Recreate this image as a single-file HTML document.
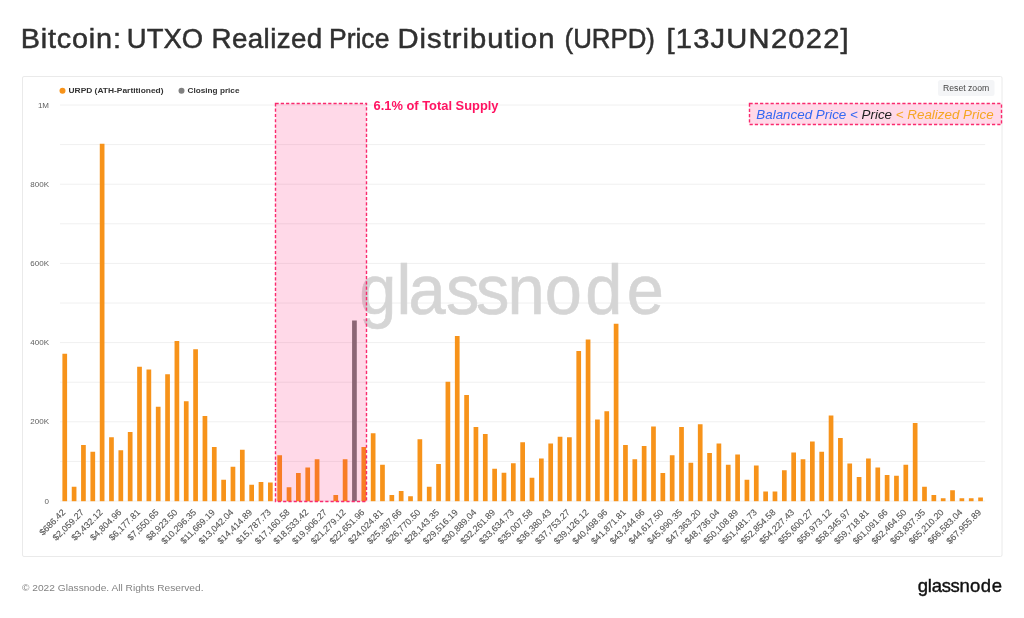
<!DOCTYPE html>
<html lang="en">
<head>
<meta charset="utf-8">
<title>Bitcoin: UTXO Realized Price Distribution (URPD) [13JUN2022]</title>
<style>
html,body{margin:0;padding:0;background:#fff;}
body{width:1024px;height:618px;position:relative;overflow:hidden;font-family:"Liberation Sans",sans-serif;}
svg{position:absolute;left:0;top:0;filter:blur(0.35px);}
text{font-family:"Liberation Sans",sans-serif;}
.title{font-size:27px;fill:#303030;stroke:#303030;stroke-width:0.5;}
.yl{font-size:8px;fill:#606060;}
.xl{font-size:9px;fill:#555;stroke:#555;stroke-width:0.1;}
.leg{font-size:7.8px;font-weight:bold;fill:#333;}
.ann{font-size:13px;font-weight:bold;fill:#ff1361;}
.rz{font-size:8.5px;fill:#444;}
.bp{font-size:13.5px;}
.copy{font-size:9.3px;fill:#828282;}
.wm{font-size:71px;fill:#d5d5d5;stroke:#d5d5d5;stroke-width:0.6;}
.logo{font-size:18.5px;fill:#111;stroke:#111;stroke-width:0.4;}
</style>
</head>
<body>
<svg width="1024" height="618" viewBox="0 0 1024 618">
<rect x="0" y="0" width="1024" height="618" fill="#fff"/>
<g id="title">
<text class="title" transform="translate(20.66,47.8) scale(1.0679,1)" letter-spacing="0.763">Bitcoin:</text>
<text class="title" transform="translate(126.87,47.8) scale(1.0153,1)" letter-spacing="0.0">UTXO</text>
<text class="title" transform="translate(211.54,47.8) scale(1.0277,1)" letter-spacing="0.389">Realized</text>
<text class="title" transform="translate(328.93,47.8) scale(0.9831,1)" letter-spacing="0.0">Price</text>
<text class="title" transform="translate(397.53,47.8) scale(1.0826,1)" letter-spacing="0.915">Distribution</text>
<text class="title" transform="translate(564.54,47.8) scale(0.9576,1)" letter-spacing="0.0">(URPD)</text>
<text class="title" transform="translate(666.44,47.8) scale(1.0792,1)" letter-spacing="1.13">[13JUN2022]</text>
</g>
<rect x="22.5" y="76.5" width="979.5" height="480" fill="#fff" stroke="#eaeaea" stroke-width="1" rx="1.5"/>
<g id="grid">
<line x1="60.0" x2="985.2" y1="501.00" y2="501.00" stroke="#f0f0f0" stroke-width="1"/>
<line x1="60.0" x2="985.2" y1="461.40" y2="461.40" stroke="#f0f0f0" stroke-width="1"/>
<line x1="60.0" x2="985.2" y1="421.80" y2="421.80" stroke="#f0f0f0" stroke-width="1"/>
<line x1="60.0" x2="985.2" y1="382.20" y2="382.20" stroke="#f0f0f0" stroke-width="1"/>
<line x1="60.0" x2="985.2" y1="342.60" y2="342.60" stroke="#f0f0f0" stroke-width="1"/>
<line x1="60.0" x2="985.2" y1="303.00" y2="303.00" stroke="#f0f0f0" stroke-width="1"/>
<line x1="60.0" x2="985.2" y1="263.40" y2="263.40" stroke="#f0f0f0" stroke-width="1"/>
<line x1="60.0" x2="985.2" y1="223.80" y2="223.80" stroke="#f0f0f0" stroke-width="1"/>
<line x1="60.0" x2="985.2" y1="184.20" y2="184.20" stroke="#f0f0f0" stroke-width="1"/>
<line x1="60.0" x2="985.2" y1="144.60" y2="144.60" stroke="#f0f0f0" stroke-width="1"/>
<line x1="60.0" x2="985.2" y1="105.00" y2="105.00" stroke="#f0f0f0" stroke-width="1"/>
</g>
<text class="wm" transform="scale(0.94,1)" x="382.2 421.8 434.7 474.5 506.5 540.0 579.5 622.7 666.8" y="314.3">glassnode</text>
<g id="bars">
<rect x="62.40" y="353.75" width="4.7" height="147.45" fill="#f7931a"/>
<rect x="71.75" y="486.75" width="4.7" height="14.45" fill="#f7931a"/>
<rect x="81.09" y="445.00" width="4.7" height="56.20" fill="#f7931a"/>
<rect x="90.44" y="451.75" width="4.7" height="49.45" fill="#f7931a"/>
<rect x="99.78" y="143.75" width="4.7" height="357.45" fill="#f7931a"/>
<rect x="109.12" y="437.25" width="4.7" height="63.95" fill="#f7931a"/>
<rect x="118.47" y="450.25" width="4.7" height="50.95" fill="#f7931a"/>
<rect x="127.82" y="432.00" width="4.7" height="69.20" fill="#f7931a"/>
<rect x="137.16" y="366.75" width="4.7" height="134.45" fill="#f7931a"/>
<rect x="146.51" y="369.50" width="4.7" height="131.70" fill="#f7931a"/>
<rect x="155.85" y="406.75" width="4.7" height="94.45" fill="#f7931a"/>
<rect x="165.20" y="374.25" width="4.7" height="126.95" fill="#f7931a"/>
<rect x="174.54" y="341.00" width="4.7" height="160.20" fill="#f7931a"/>
<rect x="183.89" y="401.25" width="4.7" height="99.95" fill="#f7931a"/>
<rect x="193.23" y="349.25" width="4.7" height="151.95" fill="#f7931a"/>
<rect x="202.58" y="416.00" width="4.7" height="85.20" fill="#f7931a"/>
<rect x="211.92" y="447.00" width="4.7" height="54.20" fill="#f7931a"/>
<rect x="221.27" y="479.75" width="4.7" height="21.45" fill="#f7931a"/>
<rect x="230.61" y="466.75" width="4.7" height="34.45" fill="#f7931a"/>
<rect x="239.96" y="449.75" width="4.7" height="51.45" fill="#f7931a"/>
<rect x="249.30" y="484.75" width="4.7" height="16.45" fill="#f7931a"/>
<rect x="258.64" y="482.00" width="4.7" height="19.20" fill="#f7931a"/>
<rect x="267.99" y="482.50" width="4.7" height="18.70" fill="#f7931a"/>
<rect x="277.33" y="455.25" width="4.7" height="45.95" fill="#f7931a"/>
<rect x="286.68" y="487.25" width="4.7" height="13.95" fill="#f7931a"/>
<rect x="296.02" y="473.00" width="4.7" height="28.20" fill="#f7931a"/>
<rect x="305.37" y="467.50" width="4.7" height="33.70" fill="#f7931a"/>
<rect x="314.72" y="459.25" width="4.7" height="41.95" fill="#f7931a"/>
<rect x="333.40" y="495.00" width="4.7" height="6.20" fill="#f7931a"/>
<rect x="342.75" y="459.25" width="4.7" height="41.95" fill="#f7931a"/>
<rect x="352.09" y="320.50" width="4.7" height="180.70" fill="#787878"/>
<rect x="361.44" y="447.00" width="4.7" height="54.20" fill="#f7931a"/>
<rect x="370.79" y="433.25" width="4.7" height="67.95" fill="#f7931a"/>
<rect x="380.13" y="464.75" width="4.7" height="36.45" fill="#f7931a"/>
<rect x="389.48" y="495.00" width="4.7" height="6.20" fill="#f7931a"/>
<rect x="398.82" y="491.00" width="4.7" height="10.20" fill="#f7931a"/>
<rect x="408.17" y="496.25" width="4.7" height="4.95" fill="#f7931a"/>
<rect x="417.51" y="439.25" width="4.7" height="61.95" fill="#f7931a"/>
<rect x="426.86" y="486.75" width="4.7" height="14.45" fill="#f7931a"/>
<rect x="436.20" y="464.00" width="4.7" height="37.20" fill="#f7931a"/>
<rect x="445.55" y="381.75" width="4.7" height="119.45" fill="#f7931a"/>
<rect x="454.89" y="336.00" width="4.7" height="165.20" fill="#f7931a"/>
<rect x="464.24" y="395.00" width="4.7" height="106.20" fill="#f7931a"/>
<rect x="473.58" y="427.00" width="4.7" height="74.20" fill="#f7931a"/>
<rect x="482.93" y="434.00" width="4.7" height="67.20" fill="#f7931a"/>
<rect x="492.27" y="468.75" width="4.7" height="32.45" fill="#f7931a"/>
<rect x="501.62" y="472.75" width="4.7" height="28.45" fill="#f7931a"/>
<rect x="510.96" y="463.25" width="4.7" height="37.95" fill="#f7931a"/>
<rect x="520.30" y="442.25" width="4.7" height="58.95" fill="#f7931a"/>
<rect x="529.65" y="477.75" width="4.7" height="23.45" fill="#f7931a"/>
<rect x="539.00" y="458.50" width="4.7" height="42.70" fill="#f7931a"/>
<rect x="548.34" y="443.50" width="4.7" height="57.70" fill="#f7931a"/>
<rect x="557.69" y="436.75" width="4.7" height="64.45" fill="#f7931a"/>
<rect x="567.03" y="437.25" width="4.7" height="63.95" fill="#f7931a"/>
<rect x="576.38" y="351.00" width="4.7" height="150.20" fill="#f7931a"/>
<rect x="585.72" y="339.50" width="4.7" height="161.70" fill="#f7931a"/>
<rect x="595.07" y="419.50" width="4.7" height="81.70" fill="#f7931a"/>
<rect x="604.41" y="411.25" width="4.7" height="89.95" fill="#f7931a"/>
<rect x="613.75" y="323.75" width="4.7" height="177.45" fill="#f7931a"/>
<rect x="623.10" y="445.00" width="4.7" height="56.20" fill="#f7931a"/>
<rect x="632.45" y="459.25" width="4.7" height="41.95" fill="#f7931a"/>
<rect x="641.79" y="446.00" width="4.7" height="55.20" fill="#f7931a"/>
<rect x="651.13" y="426.50" width="4.7" height="74.70" fill="#f7931a"/>
<rect x="660.48" y="473.00" width="4.7" height="28.20" fill="#f7931a"/>
<rect x="669.83" y="455.25" width="4.7" height="45.95" fill="#f7931a"/>
<rect x="679.17" y="427.00" width="4.7" height="74.20" fill="#f7931a"/>
<rect x="688.51" y="462.75" width="4.7" height="38.45" fill="#f7931a"/>
<rect x="697.86" y="424.25" width="4.7" height="76.95" fill="#f7931a"/>
<rect x="707.21" y="453.00" width="4.7" height="48.20" fill="#f7931a"/>
<rect x="716.55" y="443.50" width="4.7" height="57.70" fill="#f7931a"/>
<rect x="725.89" y="464.75" width="4.7" height="36.45" fill="#f7931a"/>
<rect x="735.24" y="454.50" width="4.7" height="46.70" fill="#f7931a"/>
<rect x="744.59" y="479.75" width="4.7" height="21.45" fill="#f7931a"/>
<rect x="753.93" y="465.50" width="4.7" height="35.70" fill="#f7931a"/>
<rect x="763.27" y="491.50" width="4.7" height="9.70" fill="#f7931a"/>
<rect x="772.62" y="491.50" width="4.7" height="9.70" fill="#f7931a"/>
<rect x="781.97" y="470.25" width="4.7" height="30.95" fill="#f7931a"/>
<rect x="791.31" y="452.50" width="4.7" height="48.70" fill="#f7931a"/>
<rect x="800.65" y="459.25" width="4.7" height="41.95" fill="#f7931a"/>
<rect x="810.00" y="441.50" width="4.7" height="59.70" fill="#f7931a"/>
<rect x="819.35" y="451.75" width="4.7" height="49.45" fill="#f7931a"/>
<rect x="828.69" y="415.50" width="4.7" height="85.70" fill="#f7931a"/>
<rect x="838.04" y="438.00" width="4.7" height="63.20" fill="#f7931a"/>
<rect x="847.38" y="463.50" width="4.7" height="37.70" fill="#f7931a"/>
<rect x="856.73" y="477.00" width="4.7" height="24.20" fill="#f7931a"/>
<rect x="866.07" y="458.50" width="4.7" height="42.70" fill="#f7931a"/>
<rect x="875.42" y="467.50" width="4.7" height="33.70" fill="#f7931a"/>
<rect x="884.76" y="475.00" width="4.7" height="26.20" fill="#f7931a"/>
<rect x="894.11" y="475.75" width="4.7" height="25.45" fill="#f7931a"/>
<rect x="903.45" y="464.75" width="4.7" height="36.45" fill="#f7931a"/>
<rect x="912.80" y="423.00" width="4.7" height="78.20" fill="#f7931a"/>
<rect x="922.14" y="486.75" width="4.7" height="14.45" fill="#f7931a"/>
<rect x="931.49" y="495.00" width="4.7" height="6.20" fill="#f7931a"/>
<rect x="940.83" y="498.25" width="4.7" height="2.95" fill="#f7931a"/>
<rect x="950.18" y="490.25" width="4.7" height="10.95" fill="#f7931a"/>
<rect x="959.52" y="498.25" width="4.7" height="2.95" fill="#f7931a"/>
<rect x="968.87" y="498.25" width="4.7" height="2.95" fill="#f7931a"/>
<rect x="978.21" y="497.50" width="4.7" height="3.70" fill="#f7931a"/>
</g>
<rect x="275.5" y="103.5" width="91" height="398" fill="rgba(255,0,100,0.15)" stroke="#fa2a6e" stroke-width="1.4" stroke-dasharray="3.2 2.07"/>
<rect x="749.5" y="103.5" width="252" height="21" fill="#ffd9e8" stroke="#fa2a6e" stroke-width="1.4" stroke-dasharray="3.2 2.07"/>
<text class="bp" x="756.3" y="118.7" textLength="237.3" lengthAdjust="spacingAndGlyphs"><tspan fill="#3468f2" font-style="italic">Balanced Price &lt; </tspan><tspan fill="#222" font-style="italic">Price</tspan><tspan fill="#f5a623" font-style="italic"> &lt; Realized Price</tspan></text>
<text class="ann" x="373.5" y="110.4" textLength="125" lengthAdjust="spacingAndGlyphs">6.1% of Total Supply</text>
<circle cx="62.5" cy="90.8" r="3" fill="#f7931a"/>
<text class="leg" x="68.5" y="93.3" textLength="95" lengthAdjust="spacingAndGlyphs">URPD (ATH-Partitioned)</text>
<circle cx="181.5" cy="90.8" r="3" fill="#808080"/>
<text class="leg" x="187.5" y="93.3" textLength="52" lengthAdjust="spacingAndGlyphs">Closing price</text>
<rect x="938" y="80" width="56.5" height="16" rx="2.5" fill="#f4f5f7"/>
<text class="rz" x="943" y="91" textLength="46.2" lengthAdjust="spacingAndGlyphs">Reset zoom</text>
<g id="ylabels">
<text x="49" y="107.50" text-anchor="end" class="yl">1M</text>
<text x="49" y="186.70" text-anchor="end" class="yl">800K</text>
<text x="49" y="265.90" text-anchor="end" class="yl">600K</text>
<text x="49" y="345.10" text-anchor="end" class="yl">400K</text>
<text x="49" y="424.30" text-anchor="end" class="yl">200K</text>
<text x="49" y="503.50" text-anchor="end" class="yl">0</text>
</g>
<g id="xlabels">
<text class="xl" text-anchor="end" transform="translate(65.95,513) rotate(-45)">$686.42</text>
<text class="xl" text-anchor="end" transform="translate(84.64,513) rotate(-45)">$2,059.27</text>
<text class="xl" text-anchor="end" transform="translate(103.33,513) rotate(-45)">$3,432.12</text>
<text class="xl" text-anchor="end" transform="translate(122.02,513) rotate(-45)">$4,804.96</text>
<text class="xl" text-anchor="end" transform="translate(140.71,513) rotate(-45)">$6,177.81</text>
<text class="xl" text-anchor="end" transform="translate(159.40,513) rotate(-45)">$7,550.65</text>
<text class="xl" text-anchor="end" transform="translate(178.09,513) rotate(-45)">$8,923.50</text>
<text class="xl" text-anchor="end" transform="translate(196.78,513) rotate(-45)">$10,296.35</text>
<text class="xl" text-anchor="end" transform="translate(215.47,513) rotate(-45)">$11,669.19</text>
<text class="xl" text-anchor="end" transform="translate(234.16,513) rotate(-45)">$13,042.04</text>
<text class="xl" text-anchor="end" transform="translate(252.85,513) rotate(-45)">$14,414.89</text>
<text class="xl" text-anchor="end" transform="translate(271.54,513) rotate(-45)">$15,787.73</text>
<text class="xl" text-anchor="end" transform="translate(290.23,513) rotate(-45)">$17,160.58</text>
<text class="xl" text-anchor="end" transform="translate(308.92,513) rotate(-45)">$18,533.42</text>
<text class="xl" text-anchor="end" transform="translate(327.61,513) rotate(-45)">$19,906.27</text>
<text class="xl" text-anchor="end" transform="translate(346.30,513) rotate(-45)">$21,279.12</text>
<text class="xl" text-anchor="end" transform="translate(364.99,513) rotate(-45)">$22,651.96</text>
<text class="xl" text-anchor="end" transform="translate(383.68,513) rotate(-45)">$24,024.81</text>
<text class="xl" text-anchor="end" transform="translate(402.37,513) rotate(-45)">$25,397.66</text>
<text class="xl" text-anchor="end" transform="translate(421.06,513) rotate(-45)">$26,770.50</text>
<text class="xl" text-anchor="end" transform="translate(439.75,513) rotate(-45)">$28,143.35</text>
<text class="xl" text-anchor="end" transform="translate(458.44,513) rotate(-45)">$29,516.19</text>
<text class="xl" text-anchor="end" transform="translate(477.13,513) rotate(-45)">$30,889.04</text>
<text class="xl" text-anchor="end" transform="translate(495.82,513) rotate(-45)">$32,261.89</text>
<text class="xl" text-anchor="end" transform="translate(514.51,513) rotate(-45)">$33,634.73</text>
<text class="xl" text-anchor="end" transform="translate(533.20,513) rotate(-45)">$35,007.58</text>
<text class="xl" text-anchor="end" transform="translate(551.89,513) rotate(-45)">$36,380.43</text>
<text class="xl" text-anchor="end" transform="translate(570.58,513) rotate(-45)">$37,753.27</text>
<text class="xl" text-anchor="end" transform="translate(589.27,513) rotate(-45)">$39,126.12</text>
<text class="xl" text-anchor="end" transform="translate(607.96,513) rotate(-45)">$40,498.96</text>
<text class="xl" text-anchor="end" transform="translate(626.65,513) rotate(-45)">$41,871.81</text>
<text class="xl" text-anchor="end" transform="translate(645.34,513) rotate(-45)">$43,244.66</text>
<text class="xl" text-anchor="end" transform="translate(664.03,513) rotate(-45)">$44,617.50</text>
<text class="xl" text-anchor="end" transform="translate(682.72,513) rotate(-45)">$45,990.35</text>
<text class="xl" text-anchor="end" transform="translate(701.41,513) rotate(-45)">$47,363.20</text>
<text class="xl" text-anchor="end" transform="translate(720.10,513) rotate(-45)">$48,736.04</text>
<text class="xl" text-anchor="end" transform="translate(738.79,513) rotate(-45)">$50,108.89</text>
<text class="xl" text-anchor="end" transform="translate(757.48,513) rotate(-45)">$51,481.73</text>
<text class="xl" text-anchor="end" transform="translate(776.17,513) rotate(-45)">$52,854.58</text>
<text class="xl" text-anchor="end" transform="translate(794.86,513) rotate(-45)">$54,227.43</text>
<text class="xl" text-anchor="end" transform="translate(813.55,513) rotate(-45)">$55,600.27</text>
<text class="xl" text-anchor="end" transform="translate(832.24,513) rotate(-45)">$56,973.12</text>
<text class="xl" text-anchor="end" transform="translate(850.93,513) rotate(-45)">$58,345.97</text>
<text class="xl" text-anchor="end" transform="translate(869.62,513) rotate(-45)">$59,718.81</text>
<text class="xl" text-anchor="end" transform="translate(888.31,513) rotate(-45)">$61,091.66</text>
<text class="xl" text-anchor="end" transform="translate(907.00,513) rotate(-45)">$62,464.50</text>
<text class="xl" text-anchor="end" transform="translate(925.69,513) rotate(-45)">$63,837.35</text>
<text class="xl" text-anchor="end" transform="translate(944.38,513) rotate(-45)">$65,210.20</text>
<text class="xl" text-anchor="end" transform="translate(963.07,513) rotate(-45)">$66,583.04</text>
<text class="xl" text-anchor="end" transform="translate(981.76,513) rotate(-45)">$67,955.89</text>
</g>
<text class="copy" x="22" y="590.7" textLength="181.5" lengthAdjust="spacingAndGlyphs">© 2022 Glassnode. All Rights Reserved.</text>
<text class="logo" x="917.7 927.8 931.7 941.8 950.5 959.5 969.9 980.8 991.8" y="591.5">glassnode</text>
</svg>
</body>
</html>
